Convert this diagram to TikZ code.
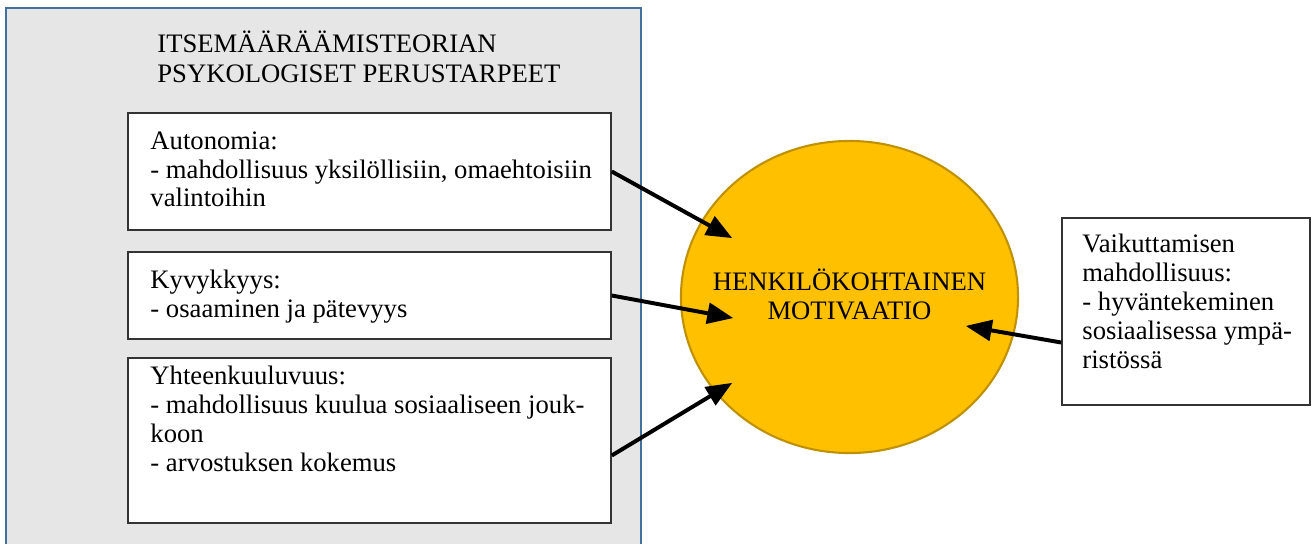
\documentclass[tikz,border=0pt]{standalone}
\usepackage{fontspec}
\setmainfont{Liberation Serif}
\usetikzlibrary{shapes}
\usetikzlibrary{fit}
\usetikzlibrary{arrows}
\definecolor{framefill}{HTML}{E6E6E6}
\definecolor{frameline}{HTML}{41719C}
\definecolor{motivfill}{HTML}{FFC000}
\definecolor{motivline}{HTML}{BF9000}
\tikzstyle{needbox} = [draw=black!80, line width=0.75pt, fill=white, inner sep=0]
\tikzstyle{boxtext} = [anchor=base west, align=left, inner sep=0, font=\fontsize{12.8}{13.9}\selectfont]
\tikzstyle{push} = [->, line width=1.9pt]
\tikzset{>={triangle 45}}

\begin{document}
\begin{tikzpicture}[x=0.48pt, y=-0.48pt]
  \useasboundingbox (0,0) rectangle (1312,544);
  % Grey frame round the basic needs
  \node[fill=framefill, draw=frameline, line width=1.2pt, inner sep=0, fit={(6,8) (641,560)}] (frame) {};
  \node[boxtext, font=\fontsize{12.8}{14.6}\selectfont] (title) at (157,83) {ITSEMÄÄRÄÄMISTEORIAN\\PSYKOLOGISET PERUSTARPEET};
  % Need boxes (text anchored at its last line)
  \node[needbox, fit={(128,113) (611,230)}] (auto) {};
  \node[boxtext] (autotext) at (150,207) {Autonomia:\\- mahdollisuus yksilöllisiin, omaehtoisiin\\valintoihin};
  \node[needbox, fit={(128,252) (611,339)}] (kyvyk) {};
  \node[boxtext] (kyvyktext) at (150,317) {Kyvykkyys:\\- osaaminen ja pätevyys};
  \node[needbox, fit={(128,358) (611,523)}] (yhteen) {};
  \node[boxtext] (yhteentext) at (150,471) {Yhteenkuuluvuus:\\- mahdollisuus kuulua sosiaaliseen jouk-\\koon\\- arvostuksen kokemus};
  % Motivation
  \node[ellipse, fill=motivfill, draw=motivline, line width=1pt, inner sep=0, minimum width=161.8pt, minimum height=149.8pt] (motiv) at (849.5,297) {};
  \node[boxtext, anchor=base, align=center] (motivtext) at (849.5,319.5) {HENKILÖKOHTAINEN\\MOTIVAATIO};
  \node[needbox, fit={(1062,218) (1310,405)}] (vaik) {};
  \node[boxtext] (vaiktext) at (1082,368) {Vaikuttamisen\\mahdollisuus:\\- hyväntekeminen\\sosiaalisessa ympä-\\ristössä};
  % Arrows
  \draw[push] (auto.east) -- ([shift={(-117.5,-59)}]motiv.center);
  \draw[push] (kyvyk.east) -- ([shift={(-116.5,21)}]motiv.center);
  \draw[push] ([shift={(0,15)}]yhteen.east) -- ([shift={(-117.5,86)}]motiv.center);
  \draw[push] ([shift={(0,31)}]vaik.west) -- ([shift={(116.5,29)}]motiv.center);
\end{tikzpicture}
\end{document}
